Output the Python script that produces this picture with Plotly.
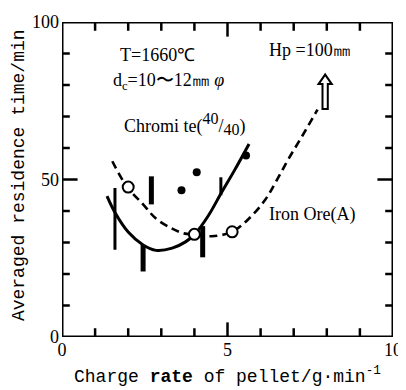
import plotly.graph_objects as go

# ---- data ----
# Iron Ore (A): open circles and dashed trend curve
iron_x = [2.0, 4.0, 5.14]
iron_y = [47.6, 32.6, 33.4]
iron_curve_x = [1.52, 1.95, 2.45, 2.84, 3.33, 3.68, 4.0, 4.52, 5.14, 5.65, 6.14, 6.49, 6.87, 7.28, 7.72]
iron_curve_y = [55.8, 47.9, 42.1, 37.6, 34.4, 32.9, 32.5, 32.0, 33.4, 37.6, 43.6, 49.8, 57.0, 64.2, 72.2]

# Chromite (40/40): filled dots, range bars and solid trend curve
chrom_x = [3.61, 4.07, 5.56]
chrom_y = [46.6, 52.3, 57.6]
chrom_curve_x = [1.36, 1.6, 2.0, 2.45, 2.84, 3.33, 3.73, 4.0, 4.42, 4.81, 5.21, 5.65]
chrom_curve_y = [44.7, 39.5, 33.3, 29.2, 27.5, 28.2, 30.2, 32.5, 38.5, 45.7, 52.9, 61.3]

thin_bar_x = [1.6, 4.8]
thin_bar_lo = [27.7, 45.0]
thin_bar_hi = [47.3, 50.7]
thick_bar_x = [2.45, 2.7, 4.25]
thick_bar_lo = [20.8, 42.1, 25.3]
thick_bar_hi = [29.2, 51.0, 35.2]

# hollow arrow (Hp = 100 mm)
arrow_x = 7.95
arrow_y0 = 72.4
arrow_y1 = 83.3

# axes, ticks and labels
x_range = [0, 10]
y_range = [0, 100]
x_labels = [0, 5, 10]
y_labels = [0, 50, 100]
x_major_ticks = [5]
x_minor_ticks = [1, 2, 3, 4, 6, 7, 8, 9]
y_major_ticks = [50]
y_minor_ticks = [10, 20, 30, 40, 60, 70, 80, 90]

FONT = "Liberation Serif"
MONO = "Liberation Mono"

# the page body has an 8px default margin; the figure is sized to fit the window
PAGE_OFFSET = 8
W, H = 406 - PAGE_OFFSET, 390 - PAGE_OFFSET
ML, MR, MT, MB = 62 - PAGE_OFFSET, 4, 14 - PAGE_OFFSET, 53
PW, PH = W - ML - MR, H - MT - MB
XU = (x_range[1] - x_range[0]) / PW   # x units per pixel
YU = (y_range[1] - y_range[0]) / PH   # y units per pixel

fig = go.Figure()

# dashed curve
fig.add_trace(go.Scatter(x=iron_curve_x, y=iron_curve_y, mode="lines",
                         line=dict(color="black", width=2.6, dash="8px,5px", shape="spline"),
                         showlegend=False, hoverinfo="skip"))
# solid curve
fig.add_trace(go.Scatter(x=chrom_curve_x, y=chrom_curve_y, mode="lines",
                         line=dict(color="black", width=3, shape="spline"),
                         showlegend=False, hoverinfo="skip"))


def bars(xs, lo, hi):
    bx, by = [], []
    for x, a, b in zip(xs, lo, hi):
        bx += [x, x, None]
        by += [a, b, None]
    return bx, by


bx, by = bars(thin_bar_x, thin_bar_lo, thin_bar_hi)
fig.add_trace(go.Scatter(x=bx, y=by, mode="lines", line=dict(color="black", width=3),
                         showlegend=False, hoverinfo="skip"))
bx, by = bars(thick_bar_x, thick_bar_lo, thick_bar_hi)
fig.add_trace(go.Scatter(x=bx, y=by, mode="lines", line=dict(color="black", width=5),
                         showlegend=False, hoverinfo="skip"))

# markers
fig.add_trace(go.Scatter(x=iron_x, y=iron_y, mode="markers",
                         marker=dict(symbol="circle", size=11, color="white",
                                     line=dict(color="black", width=2)),
                         showlegend=False))
fig.add_trace(go.Scatter(x=chrom_x, y=chrom_y, mode="markers",
                         marker=dict(symbol="circle", size=8, color="black"),
                         showlegend=False))

# hollow arrow built from the arrow values
sw = 0.08   # half shaft width (x units)
hw = 0.2    # half head width
hh = 3.0    # head height (y units)
path = (f"M {arrow_x - sw},{arrow_y0} L {arrow_x + sw},{arrow_y0} "
        f"L {arrow_x + sw},{arrow_y1 - hh} L {arrow_x + hw},{arrow_y1 - hh} "
        f"L {arrow_x},{arrow_y1} L {arrow_x - hw},{arrow_y1 - hh} "
        f"L {arrow_x - sw},{arrow_y1 - hh} Z")
fig.add_shape(type="path", path=path, xref="x", yref="y",
              line=dict(color="black", width=2), fillcolor="white")

# frame and inward ticks on all four sides, drawn as line traces
x0, x1 = x_range
y0, y1 = y_range
fx = [x0, x1, x1, x0, x0]
fy = [y0, y0, y1, y1, y0]
tx, ty = [], []
for vals, ln_px in ((x_major_ticks, 15), (x_minor_ticks, 9)):
    ln = ln_px * YU
    for v in vals:
        tx += [v, v, None, v, v, None]
        ty += [y0, y0 + ln, None, y1, y1 - ln, None]
for vals, ln_px in ((y_major_ticks, 16), (y_minor_ticks, 8)):
    ln = ln_px * XU
    for v in vals:
        tx += [x0, x0 + ln, None, x1, x1 - ln, None]
        ty += [v, v, None, v, v, None]
fig.add_trace(go.Scatter(x=fx, y=fy, mode="lines",
                         line=dict(color="black", width=3), cliponaxis=False,
                         showlegend=False, hoverinfo="skip"))
fig.add_trace(go.Scatter(x=tx, y=ty, mode="lines",
                         line=dict(color="black", width=2.5), cliponaxis=False,
                         showlegend=False, hoverinfo="skip"))

txt = dict(family=FONT, size=18, color="black")
fig.add_annotation(x=1.70, y=89.5, text="T=1660℃", showarrow=False, xanchor="left", font=txt)
fig.add_annotation(x=1.48, y=81.0, text="d<sub>c</sub>=10〜12㎜ <i>φ</i>", showarrow=False,
                   xanchor="left", font=txt)
fig.add_annotation(x=1.82, y=67.5,
                   text="Chromi te(<sup><span style='font-size:16px'>40</span></sup>/"
                        "<sub><span style='font-size:16px'>40</span></sub>)",
                   showarrow=False, xanchor="left", font=txt)
fig.add_annotation(x=6.2, y=91.0, text="Hp =100㎜", showarrow=False, xanchor="left", font=txt)
fig.add_annotation(x=6.2, y=38.8, text="Iron Ore(A)", showarrow=False, xanchor="left", font=txt)

# axis titles
fig.add_annotation(xref="paper", yref="paper", x=0, y=0.514, xshift=-43,
                   text="Averaged residence time/min", textangle=-90, showarrow=False,
                   xanchor="center", yanchor="middle",
                   font=dict(family=MONO, size=18, color="black"))
fig.add_annotation(xref="paper", yref="paper", x=0.5, y=0, yshift=-38,
                   text="Charge <b>rate</b> of pellet/g·min<sup>-1</sup>", showarrow=False,
                   xanchor="center", yanchor="middle",
                   font=dict(family=MONO, size=18, color="black"))

axis_common = dict(showgrid=False, zeroline=False, showline=False, ticks="",
                   tickmode="array", ticklabeloverflow="allow",
                   tickfont=dict(family=FONT, size=18, color="black"))

fig.update_xaxes(range=x_range, tickvals=x_labels, ticktext=[str(v) for v in x_labels],
                 ticklabelstandoff=0, **axis_common)
fig.update_yaxes(range=y_range, tickvals=y_labels, ticktext=[str(v) for v in y_labels],
                 ticklabelstandoff=2, **axis_common)

fig.update_layout(width=W, height=H, margin=dict(l=ML, r=MR, t=MT, b=MB),
                  plot_bgcolor="white", paper_bgcolor="white", showlegend=False)

fig.write_html("out.html")
